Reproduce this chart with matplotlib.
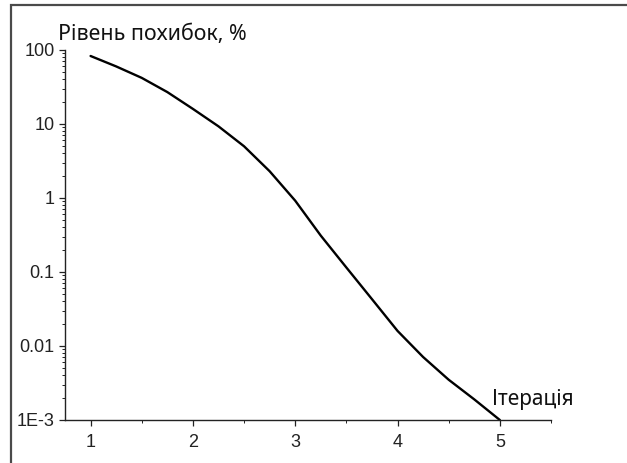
import matplotlib
matplotlib.use("Agg")
import matplotlib.pyplot as plt
from matplotlib.ticker import FixedLocator, FixedFormatter, LogLocator, NullFormatter, MultipleLocator
from matplotlib.patches import Rectangle

plt.rcParams["font.family"] = ["Liberation Sans", "DejaVu Sans"]

# Data
iterations = [1.0, 1.25, 1.5, 1.75, 2.0, 2.25, 2.5, 2.75, 3.0, 3.25, 3.5, 3.75, 4.0, 4.25, 4.5, 4.75, 5.0]
error_pct = [83, 60, 42, 27, 16, 9.3, 5.0, 2.3, 0.92, 0.31, 0.115, 0.043, 0.016, 0.0071, 0.0035, 0.0019, 0.001]
y_ticks = [1e-3, 1e-2, 1e-1, 1, 10, 100]
y_tick_labels = ["1E-3", "0.01", "0.1", "1", "10", "100"]
x_ticks = [1, 2, 3, 4, 5]
x_tick_labels = ["1", "2", "3", "4", "5"]
title_text = "Рівень похибок, %"
xlabel_text = "Ітерація"

W, H = 627, 463
fig = plt.figure(figsize=(W / 100, H / 100), dpi=100)
fig.patch.set_facecolor("white")

# outer frame (only top and left edges visible in the reference)
fig.add_artist(Rectangle((11 / W, -0.1), 1.2, 1.1 - 5 / H, transform=fig.transFigure,
                         fill=False, edgecolor="#4a4a4a", linewidth=1.6))

ax = fig.add_axes([65 / W, 1 - 420 / H, (551 - 65) / W, (420 - 50) / H])
ax.plot(iterations, error_pct, color="black", linewidth=1.7,
        solid_joinstyle="round", solid_capstyle="round")

ax.set_yscale("log")
ax.set_xlim(0.75, 5.5)
ax.set_ylim(1e-3, 100)

ax.yaxis.set_major_locator(FixedLocator(y_ticks))
ax.yaxis.set_major_formatter(FixedFormatter(y_tick_labels))
ax.yaxis.set_minor_locator(LogLocator(base=10, subs=range(2, 10)))
ax.yaxis.set_minor_formatter(NullFormatter())
ax.xaxis.set_major_locator(FixedLocator(x_ticks))
ax.xaxis.set_major_formatter(FixedFormatter(x_tick_labels))
ax.xaxis.set_minor_locator(MultipleLocator(0.5))

for s in ["top", "right"]:
    ax.spines[s].set_visible(False)
for s in ["left", "bottom"]:
    ax.spines[s].set_color("#222222")
    ax.spines[s].set_linewidth(1.0)

ax.tick_params(axis="both", which="major", direction="out", length=4.5, width=0.9,
               color="#222222", labelcolor="#222222", labelsize=13)
ax.tick_params(axis="both", which="minor", direction="out", length=2.5, width=0.7, color="#222222")
ax.tick_params(axis="y", which="major", pad=3)
ax.tick_params(axis="x", which="major", pad=5.5)

fig.text(58 / W, 1 - 40 / H, title_text, fontsize=15.4, color="#111111",
         family=["Noto Sans", "DejaVu Sans"], ha="left", va="baseline")
fig.text(492 / W, 1 - 405 / H, xlabel_text, fontsize=15, color="#111111",
         family=["Noto Sans", "DejaVu Sans"], ha="left", va="baseline")

fig.savefig("out.png", dpi=100, facecolor="white")
